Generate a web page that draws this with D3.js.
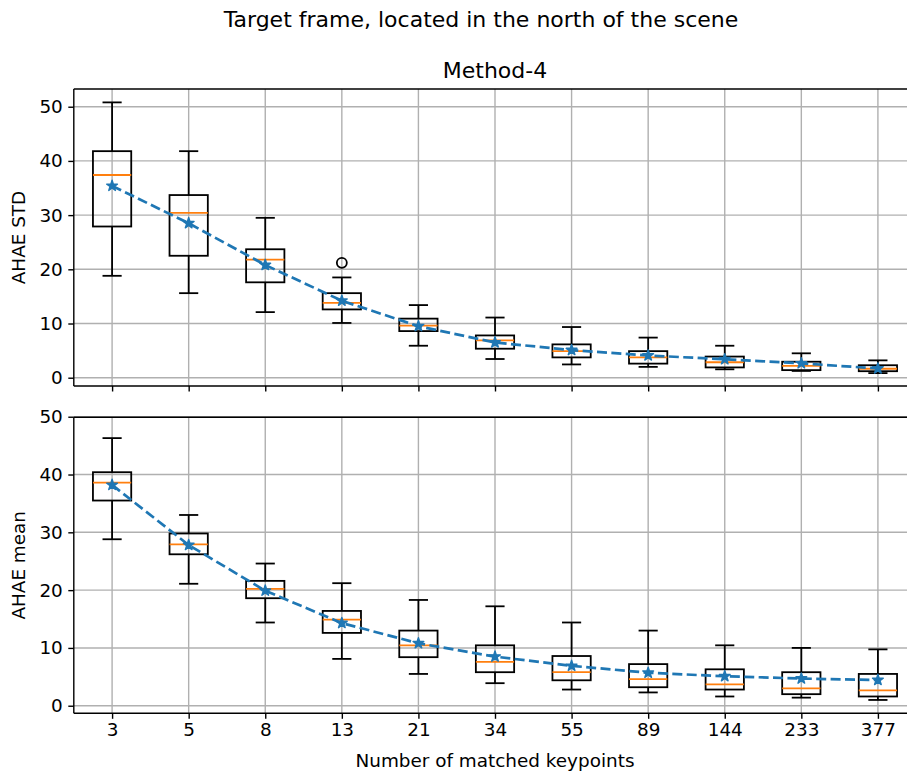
<!DOCTYPE html>
<html>
<head>
<meta charset="utf-8">
<script src="https://cdn.jsdelivr.net/npm/d3@7"></script>
<style>
  html, body { margin: 0; padding: 0; background: #fff; }
  svg { display: block; font-family: "DejaVu Sans", sans-serif; }
</style>
</head>
<body>
<svg id="chart" width="907" height="776"></svg>
<script>
// Number of matched keypoints (one box per value)
const categories = [3, 5, 8, 13, 21, 34, 55, 89, 144, 233, 377];

// AHAE STD: whisker low, Q1, median, Q3, whisker high, mean, outliers
const stdLow    = [18.8, 15.6, 12.1, 10.1, 5.9, 3.45, 2.45, 2.0, 1.55, 1.25, 0.85];
const stdQ1     = [27.9, 22.5, 17.6, 12.6, 8.6, 5.35, 3.75, 2.6, 1.9, 1.4, 1.2];
const stdMedian = [37.4, 30.4, 21.8, 13.8, 9.6, 6.9, 4.9, 3.75, 2.85, 2.2, 1.65];
const stdQ3     = [41.8, 33.7, 23.7, 15.6, 10.9, 7.8, 6.15, 4.9, 3.9, 2.95, 2.3];
const stdHigh   = [50.8, 41.8, 29.5, 18.5, 13.4, 11.1, 9.35, 7.4, 5.9, 4.5, 3.2];
const stdMean   = [35.4, 28.5, 20.8, 14.2, 9.5, 6.5, 5.1, 4.1, 3.4, 2.65, 1.7];
const stdFliers = [[], [], [], [21.2], [], [], [], [], [], [], []];

// AHAE mean: whisker low, Q1, median, Q3, whisker high, mean, outliers
const meanLow    = [28.8, 21.1, 14.4, 8.1, 5.5, 3.9, 2.8, 2.3, 1.6, 1.4, 1.0];
const meanQ1     = [35.5, 26.2, 18.6, 12.6, 8.4, 5.8, 4.4, 3.2, 2.8, 2.0, 1.6];
const meanMedian = [38.6, 27.9, 20.2, 14.9, 10.45, 7.6, 5.8, 4.6, 3.7, 3.0, 2.65];
const meanQ3     = [40.4, 29.8, 21.6, 16.4, 13.0, 10.45, 8.6, 7.2, 6.3, 5.8, 5.5];
const meanHigh   = [46.3, 33.0, 24.6, 21.2, 18.3, 17.2, 14.4, 13.0, 10.45, 10.0, 9.75];
const meanMean   = [38.2, 27.8, 19.9, 14.3, 10.8, 8.5, 6.9, 5.7, 5.1, 4.7, 4.45];
const meanFliers = [[], [], [], [], [], [], [], [], [], [], []];

const yTicks = [0, 10, 20, 30, 40, 50];

const svg = d3.select("#chart");
const BLUE = "#1f77b4", ORANGE = "#ff7f0e", GRID = "#b0b0b0";
const LW = 1.8;       // box / whisker line width
const GW = 1.4;       // grid and spine width
const FS_TICK = 18.4; // tick and axis label font size
const FS_TITLE = 22;  // title font size

const x = d3.scaleLinear().domain([0.5, 11.5]).range([73.8, 916.2]);

function panel(opts) {
  const y = d3.scaleLinear().domain(opts.yDomain).range([opts.bottom, opts.top]);
  const g = svg.append("g");
  const left = x.range()[0], right = x.range()[1];

  // grid
  g.append("g").selectAll("line").data(categories).join("line")
    .attr("x1", (d, i) => x(i + 1)).attr("x2", (d, i) => x(i + 1))
    .attr("y1", opts.top).attr("y2", opts.bottom)
    .attr("stroke", GRID).attr("stroke-width", GW);
  g.append("g").selectAll("line").data(yTicks).join("line")
    .attr("x1", left).attr("x2", right)
    .attr("y1", d => y(d)).attr("y2", d => y(d))
    .attr("stroke", GRID).attr("stroke-width", GW);

  const boxes = categories.map((c, i) => ({
    pos: i + 1, low: opts.low[i], q1: opts.q1[i], med: opts.median[i],
    q3: opts.q3[i], high: opts.high[i], fliers: opts.fliers[i]
  }));
  const half = 0.25, capHalf = 0.125;
  const bg = g.append("g").attr("fill", "none");
  boxes.forEach(b => {
    const cx = x(b.pos);
    const bx0 = x(b.pos - half), bx1 = x(b.pos + half);
    const cx0 = x(b.pos - capHalf), cx1 = x(b.pos + capHalf);
    bg.append("rect").attr("x", bx0).attr("y", y(b.q3))
      .attr("width", bx1 - bx0).attr("height", y(b.q1) - y(b.q3))
      .attr("stroke", "#000").attr("stroke-width", LW);
    bg.append("line").attr("x1", cx).attr("x2", cx).attr("y1", y(b.q3)).attr("y2", y(b.high))
      .attr("stroke", "#000").attr("stroke-width", LW);
    bg.append("line").attr("x1", cx).attr("x2", cx).attr("y1", y(b.q1)).attr("y2", y(b.low))
      .attr("stroke", "#000").attr("stroke-width", LW);
    bg.append("line").attr("x1", cx0).attr("x2", cx1).attr("y1", y(b.high)).attr("y2", y(b.high))
      .attr("stroke", "#000").attr("stroke-width", LW);
    bg.append("line").attr("x1", cx0).attr("x2", cx1).attr("y1", y(b.low)).attr("y2", y(b.low))
      .attr("stroke", "#000").attr("stroke-width", LW);
    bg.append("line").attr("x1", bx0).attr("x2", bx1).attr("y1", y(b.med)).attr("y2", y(b.med))
      .attr("stroke", ORANGE).attr("stroke-width", LW);
    b.fliers.forEach(f => {
      bg.append("circle").attr("cx", cx).attr("cy", y(f)).attr("r", 5)
        .attr("stroke", "#000").attr("stroke-width", LW).attr("fill", "none");
    });
  });

  // mean line with star markers
  const pts = opts.mean.map((v, i) => [i + 1, v]);
  g.append("path").datum(pts)
    .attr("d", d3.line().x(d => x(d[0])).y(d => y(d[1])))
    .attr("fill", "none").attr("stroke", BLUE).attr("stroke-width", 2.7)
    .attr("stroke-dasharray", "10,4.4");
  g.append("g").selectAll("path").data(pts).join("path")
    .attr("transform", d => `translate(${x(d[0])},${y(d[1])})`)
    .attr("d", d3.symbol(d3.symbolStar, 36))
    .attr("fill", BLUE).attr("stroke", BLUE).attr("stroke-width", 1.4)
    .attr("stroke-linejoin", "round");

  // spines
  const frame = g.append("g").attr("stroke", "#000").attr("stroke-width", GW);
  frame.append("line").attr("x1", left).attr("x2", right).attr("y1", opts.top).attr("y2", opts.top);
  frame.append("line").attr("x1", left).attr("x2", right).attr("y1", opts.bottom).attr("y2", opts.bottom);
  frame.append("line").attr("x1", left).attr("x2", left).attr("y1", opts.top).attr("y2", opts.bottom);
  frame.append("line").attr("x1", right).attr("x2", right).attr("y1", opts.top).attr("y2", opts.bottom);

  // y axis
  const yAxis = d3.axisLeft(y).tickValues(yTicks).tickSize(5.5).tickPadding(5.5).tickFormat(d3.format("d"));
  const ya = g.append("g").attr("transform", `translate(${left},0)`).call(yAxis);
  ya.select(".domain").remove();
  ya.selectAll(".tick line").attr("stroke", "#000").attr("stroke-width", GW);
  ya.selectAll("text").attr("font-size", FS_TICK).attr("fill", "#000")
    .attr("font-family", "DejaVu Sans");

  // x axis
  const xAxis = d3.axisBottom(x).tickValues(d3.range(1, 12)).tickSize(5.5).tickPadding(4)
    .tickFormat(d => opts.showX ? String(categories[d - 1]) : "");
  const xa = g.append("g").attr("transform", `translate(0,${opts.bottom})`).call(xAxis);
  xa.select(".domain").remove();
  xa.selectAll(".tick line").attr("stroke", "#000").attr("stroke-width", GW);
  xa.selectAll("text").attr("font-size", FS_TICK).attr("fill", "#000")
    .attr("font-family", "DejaVu Sans");

  // y label
  svg.append("text")
    .attr("transform", `translate(18,${(opts.top + opts.bottom) / 2}) rotate(-90)`)
    .attr("text-anchor", "middle").attr("dominant-baseline", "central")
    .attr("font-size", FS_TICK).attr("fill", "#000").text(opts.ylabel);
}

panel({
  top: 89, bottom: 386, yDomain: [-1.53, 53.27], showX: false, ylabel: "AHAE STD",
  low: stdLow, q1: stdQ1, median: stdMedian, q3: stdQ3, high: stdHigh, mean: stdMean, fliers: stdFliers
});
panel({
  top: 417.3, bottom: 713.3, yDomain: [-1.31, 49.9], showX: true, ylabel: "AHAE mean",
  low: meanLow, q1: meanQ1, median: meanMedian, q3: meanQ3, high: meanHigh, mean: meanMean, fliers: meanFliers
});

// titles and x label
svg.append("text").attr("x", 481).attr("y", 27).attr("text-anchor", "middle")
  .attr("font-size", FS_TITLE).attr("fill", "#000").text("Target frame, located in the north of the scene");
svg.append("text").attr("x", 495).attr("y", 78).attr("text-anchor", "middle")
  .attr("font-size", FS_TITLE).attr("fill", "#000").text("Method-4");
svg.append("text").attr("x", 495).attr("y", 767).attr("text-anchor", "middle")
  .attr("font-size", FS_TICK).attr("fill", "#000").text("Number of matched keypoints");
</script>
</body>
</html>
